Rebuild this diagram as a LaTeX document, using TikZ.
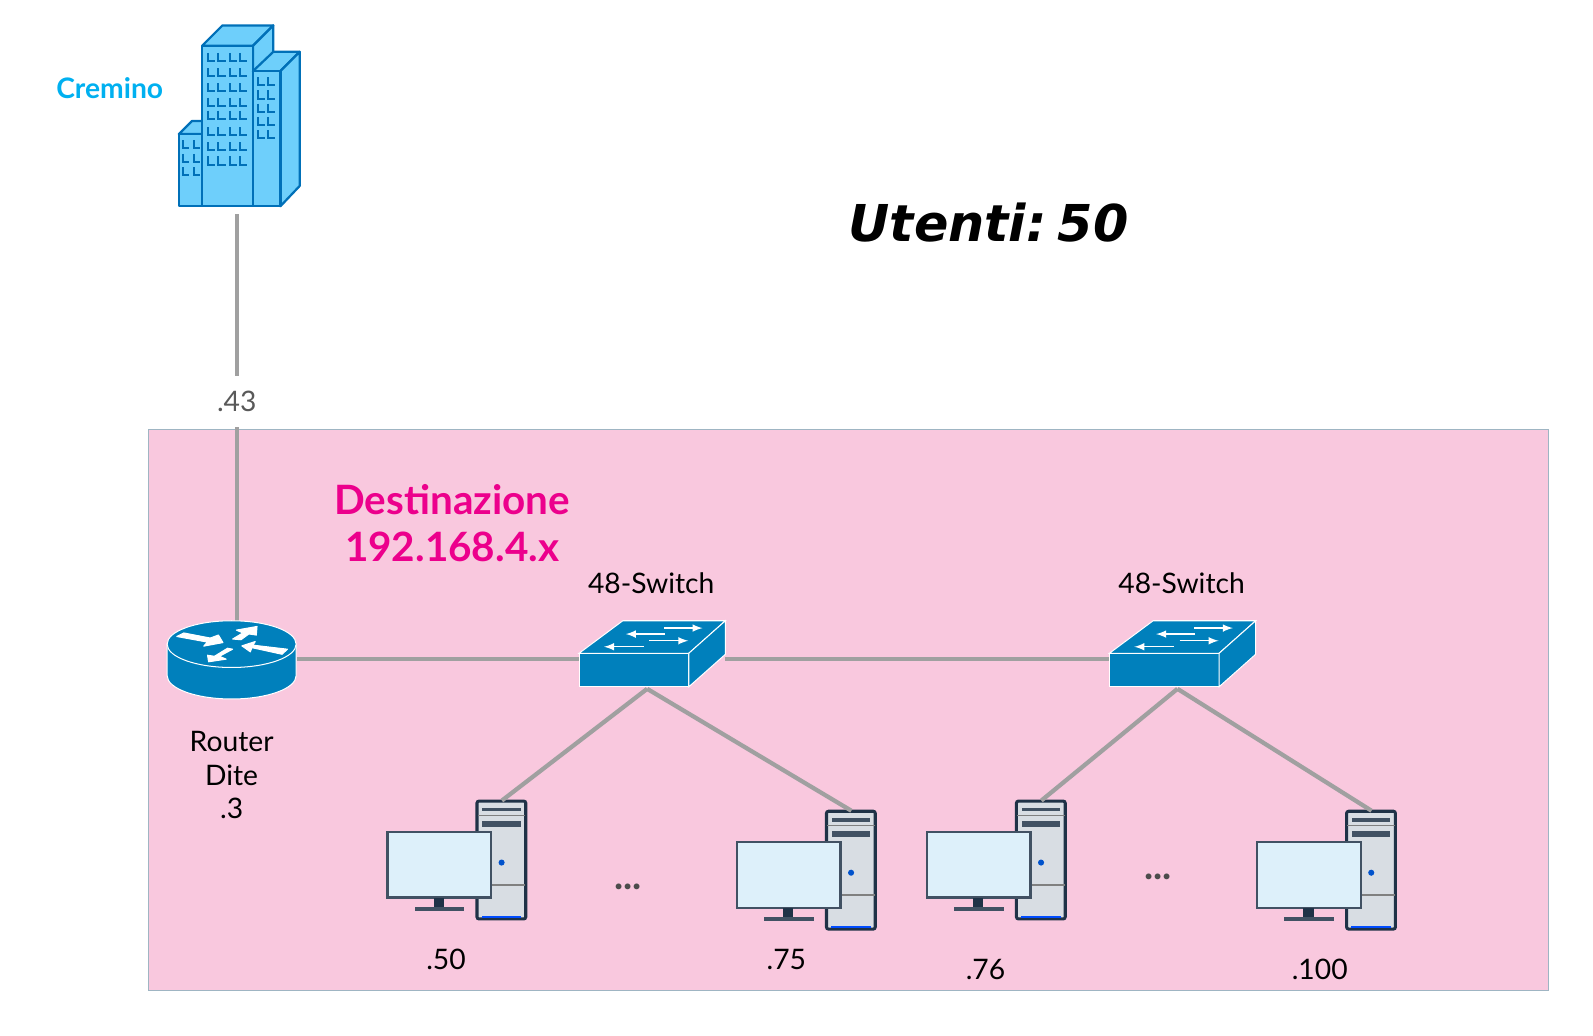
\documentclass[tikz,border=0pt]{standalone}
\usepackage{fontspec}
\setmainfont{Lato}
\newfontfamily\utentifont{DejaVu Sans}
\definecolor{netblue}{HTML}{0080BC}
\definecolor{towerblue}{HTML}{6ECFFB}
\definecolor{towerline}{HTML}{0070B8}
\definecolor{pcdark}{HTML}{1F3247}
\definecolor{pcbody}{HTML}{D8DDE3}
\definecolor{pcscreen}{HTML}{DDF0FA}
\definecolor{roomfill}{HTML}{F9C8DE}
\definecolor{roomline}{HTML}{9FB5C3}
\definecolor{linkgrey}{HTML}{A0A0A0}
\definecolor{destpink}{HTML}{EC008C}
\definecolor{creminoblue}{HTML}{00B0F0}
\tikzset{
  link/.style={draw=linkgrey,line width=2.1pt},
  lbl/.style={inner sep=0pt,font=\fontsize{13.9}{16.6}\selectfont,align=center,text=black},
  dotlbl/.style={lbl,font=\fontsize{19}{20}\selectfont\bfseries,text=black!70},
  wall/.style={fill=towerblue,draw=towerline,line width=1.1pt,line join=round},
  win/.style={draw=towerline,line width=1pt},
  pfeil/.style={fill=white,draw=white,line width=.5pt,line join=round},
  swpfeil/.style={draw=white,line width=.7pt,->,>=latex},
  pcicon/.pic={
    \coordinate (-top) at (25,0);
    \draw[fill=pcbody,draw=pcdark,line width=1.5pt,rounded corners=1pt] (.5,.5) rectangle (48.5,116.5);
    \fill[pcdark!85] (5.7,7.6) rectangle (43.5,10.6);
    \draw[gray,line width=.6pt] (1,14.5) -- (48,14.5);
    \fill[pcdark!85] (5.7,20) rectangle (43.5,26);
    \fill[blue!60!cyan!80!black] (24.7,61) circle (3);
    \draw[gray,line width=.6pt] (1,83) -- (48,83);
    \fill[blue!70!cyan] (5,113.5) rectangle (44,115.5);
    \draw[fill=pcscreen,draw=pcdark!85,line width=1.2pt] (-87.5,31) rectangle (14.5,95.5);
    \fill[pcdark] (-42,96) rectangle (-32,106);
    \fill[pcdark!85] (-61,105) rectangle (-12,109);
  },
  switchicon/.pic={
    \coordinate (-w) at (0,6);
    \coordinate (-e) at (144,6);
    \coordinate (-s) at (67,35);
    \draw[fill=netblue,draw=white,line width=.5pt] (0,0) rectangle (108,33);
    \draw[fill=netblue,draw=white,line width=.5pt] (0,0) -- (43,-32) -- (144,-32) -- (108,0) -- cycle;
    \draw[fill=netblue,draw=white,line width=.5pt] (108,0) -- (144,-32) -- (144,1) -- (108,33) -- cycle;
    \draw[swpfeil] (83.7,-24.8) -- (121.5,-24.8);
    \draw[swpfeil] (84.4,-18.9) -- (46,-18.9);
    \draw[swpfeil] (69,-12.3) -- (107.4,-12.3);
    \draw[swpfeil] (63.4,-6.4) -- (24.6,-6.4);
  },
  routericon/.pic={
    \coordinate (-n) at (5,-22);
    \coordinate (-e) at (64,15);
    \draw[fill=netblue,draw=white,line width=.5pt] (-63.5,0) -- (-63.5,31) arc (180:0:63.5 and 23) -- (63.5,0) -- cycle;
    \draw[fill=netblue,draw=white,line width=.5pt] (0,0) ellipse (63.5 and 23);
    \filldraw[pfeil] (-54,-7.5) -- (-47,-11) -- (-21,-6) -- (-13,-9) -- (-8.5,-1.5) -- (-27.5,2) -- (-24,-2) -- cycle;
    \filldraw[pfeil] (1,-5) -- (11,-11) -- (4.6,-13.8) -- (25,-17.4) -- (24.3,-8.9) -- (17,-10) -- (9.2,-4.3) -- cycle;
    \filldraw[pfeil] (10,1.7) -- (23.3,-2.6) -- (21,1) -- (55,5) -- (49.6,10) -- (20,3.5) -- (18.4,7.6) -- cycle;
    \filldraw[pfeil] (-4,4) -- (1,5) -- (-12,12) -- (-5.3,14.8) -- (-22.7,17.4) -- (-23.7,10.9) -- (-17,12) -- cycle;
  },
  palazzo/.pic={
    \draw[wall] (176,132) -- (189,119) -- (199,119) -- (199,132) -- cycle;
    \draw[wall] (176,132) rectangle (199,203);
    \draw[wall] (199,45) -- (219,25) -- (269,25) -- (249,45) -- cycle;
    \draw[wall] (249,45) -- (269,25) -- (269,60) -- (249,75) -- cycle;
    \draw[wall] (199,45) rectangle (249,203);
    \draw[wall] (249,70) -- (269,51) -- (295,51) -- (276,70) -- cycle;
    \draw[wall] (276,70) -- (295,51) -- (295,183) -- (276,203) -- cycle;
    \draw[wall] (249,70) rectangle (276,203);
    \foreach \wy in {60,75,90,104,117,133,148,162}
      \foreach \wx in {204.7,215,226,236.5}
        \draw[win] (\wx,\wy-8) -- (\wx,\wy) -- (\wx+7,\wy);
    \foreach \wy in {84,97,110,123,136}
      \foreach \wx in {254,264}
        \draw[win] (\wx,\wy-8) -- (\wx,\wy) -- (\wx+7,\wy);
    \foreach \wy in {146,159.5,172.5}
      \foreach \wx in {180,190.5}
        \draw[win] (\wx,\wy-8) -- (\wx,\wy) -- (\wx+6,\wy);
  },
}
\begin{document}
\begin{tikzpicture}[x=.5pt,y=-.5pt]
\useasboundingbox (0,0) rectangle (1568,1018.8);
\draw[fill=roomfill,draw=roomline,line width=.7pt] (146,423) rectangle (1524,975);
\pic (cremino) at (0,0) {palazzo};
\node[lbl,font=\fontsize{13.9}{16}\selectfont\bfseries,text=creminoblue] (creminolbl) at (108,87) {Cremino};
\node[font=\utentifont\fontsize{25}{30}\selectfont\bfseries\itshape,inner sep=0pt] (utenti) at (973,219) {Utenti:\hspace{.22em}50};
\node[lbl,text=black!65,minimum height=25pt] (ip43) at (233,395) {.43};
\node[lbl,font=\fontsize{19.9}{23.5}\selectfont\bfseries,text=destpink] (dest) at (445,515) {Destinazione\\192.168.4.x};
\coordinate (cremino-s) at (233,211);
\coordinate (rt-n) at (233,612);
\coordinate (rt-e) at (292,649);
\draw[link] (cremino-s) -- (ip43);
\draw[link] (ip43) -- (rt-n);
\pic (sw1) at (570,643) {switchicon};
\pic (sw2) at (1092,643) {switchicon};
\pic (pc1) at (469,788) {pcicon};
\pic (pc2) at (813,798) {pcicon};
\pic (pc3) at (1000,788) {pcicon};
\pic (pc4) at (1325,798) {pcicon};
\draw[link] (rt-e) -- (sw1-w);
\draw[link] (sw1-e) -- (sw2-w);
\draw[link] (sw1-s) -- (pc1-top);
\draw[link] (sw1-s) -- (pc2-top);
\draw[link] (sw2-s) -- (pc3-top);
\draw[link] (sw2-s) -- (pc4-top);
\pic (rt) at (228,634) {routericon};
\node[lbl] (rtlbl) at (228,763) {Router\\Dite\\.3};
\node[lbl] (sw1lbl) at (641,574) {48-Switch};
\node[lbl] (sw2lbl) at (1163,574) {48-Switch};
\node[lbl] (ip50) at (439,944) {.50};
\node[lbl] (ip75) at (774,944) {.75};
\node[lbl] (ip76) at (970,954) {.76};
\node[lbl] (ip100) at (1299,954) {.100};
\node[dotlbl] (dots1) at (618,873) {...};
\node[dotlbl] (dots2) at (1140,863) {...};
\end{tikzpicture}
\end{document}
